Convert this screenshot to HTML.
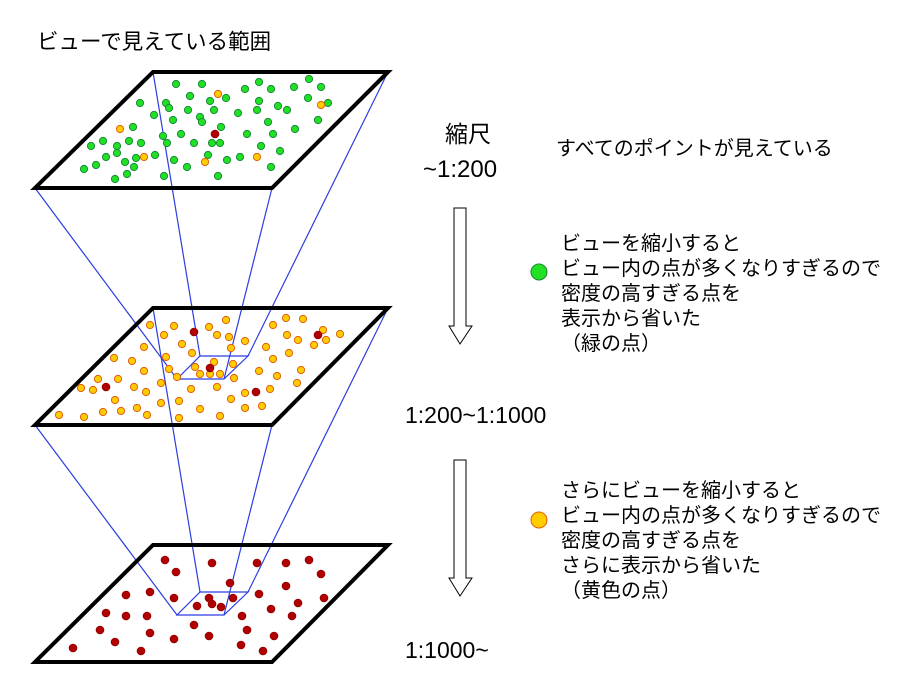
<!DOCTYPE html>
<html><head><meta charset="utf-8"><style>
html,body{margin:0;padding:0;background:#fff;}
svg{display:block;}
text{font-family:"Liberation Sans","Noto Sans CJK JP",sans-serif;fill:#000;}
</style></head><body>
<svg id="s" width="909" height="696" viewBox="0 0 909 696" xmlns="http://www.w3.org/2000/svg">
<rect width="909" height="696" fill="#fff"/>
<text x="37" y="49" font-size="21.5">ビューで見えている範囲</text>
<g stroke="#2b3de0" stroke-width="1.2" fill="none">
<line x1="153" y1="72" x2="200" y2="356"/>
<line x1="388" y1="72" x2="248" y2="356"/>
<line x1="35" y1="188" x2="177" y2="379"/>
<line x1="272" y1="188" x2="224" y2="379"/>
<polygon points="200,356 248,356 224,379 177,379"/>
<line x1="153" y1="308" x2="200" y2="592"/>
<line x1="388" y1="308" x2="248" y2="592"/>
<line x1="35" y1="425" x2="177" y2="615"/>
<line x1="272" y1="425" x2="224" y2="615"/>
<polygon points="200,592 248,592 224,615 177,615"/>
</g>
<g fill="none" stroke="#000" stroke-width="4" stroke-linejoin="miter">
<polygon points="153,72 388,72 272,188 35,188"/>
<polygon points="153,308 388,308 272,425 35,425"/>
<polygon points="153,545 388,545 272,662 35,662"/>
</g>
<g id="dots"></g>
<text x="445" y="142" font-size="23">縮尺</text>
<text x="423" y="177" font-size="24">~1:200</text>
<text x="405" y="423" font-size="23">1:200~1:1000</text>
<text x="405" y="658" font-size="23">1:1000~</text>
<text x="556" y="155" font-size="20">すべてのポイントが見えている</text>
<g fill="#fff" stroke="#000" stroke-width="1">
<polygon points="454,208 466,208 466,326 472,326 460,344 449,326 454,326"/>
<polygon points="454,460 466,460 466,578 472,578 460,596 449,578 454,578"/>
</g>
<circle cx="539" cy="272" r="8" fill="#22e022" stroke="#1a8a30" stroke-width="1"/>
<circle cx="539" cy="520" r="8" fill="#ffcc00" stroke="#e06000" stroke-width="1"/>
<g font-size="20">
<text x="561" y="250">ビューを縮小すると</text>
<text x="561" y="275">ビュー内の点が多くなりすぎるので</text>
<text x="561" y="300">密度の高すぎる点を</text>
<text x="561" y="325">表示から省いた</text>
<text x="561" y="350">（緑の点）</text>
<text x="561" y="497">さらにビューを縮小すると</text>
<text x="561" y="522">ビュー内の点が多くなりすぎるので</text>
<text x="561" y="547">密度の高すぎる点を</text>
<text x="561" y="572">さらに表示から省いた</text>
<text x="561" y="597">（黄色の点）</text>
</g>
</svg>
<script>
var G=[[176,84],[202,84],[259,82],[245,89],[271,89],[294,87],[309,79],[321,87],[190,96],[226,98],[210,101],[259,101],[308,98],[328,103],[140,103],[166,103],[169,108],[188,110],[214,110],[238,113],[257,110],[278,106],[287,110],[154,115],[200,117],[202,122],[173,120],[268,122],[318,120],[133,127],[221,127],[295,129],[181,134],[247,134],[273,134],[163,136],[103,141],[129,141],[141,143],[91,146],[117,146],[167,143],[194,143],[212,143],[220,143],[261,146],[280,151],[117,153],[106,157],[136,158],[155,155],[208,155],[174,160],[227,160],[240,157],[125,162],[96,165],[134,167],[187,167],[271,167],[84,169],[127,174],[115,179],[164,176],[218,176]];
var O=[[218,94],[321,105],[120,129],[144,157],[205,162],[257,157],[150,325],[174,326],[209,327],[226,320],[273,325],[286,318],[303,319],[323,330],[340,334],[164,335],[217,335],[229,337],[245,341],[287,335],[298,340],[326,340],[314,345],[182,344],[231,348],[266,347],[144,347],[192,353],[289,353],[114,358],[132,361],[166,357],[273,359],[214,362],[233,364],[195,367],[169,369],[144,371],[259,371],[301,370],[200,374],[210,374],[220,374],[177,377],[234,378],[277,376],[98,379],[118,379],[161,383],[297,383],[81,388],[93,390],[134,387],[146,392],[191,389],[217,387],[245,393],[270,389],[115,400],[231,399],[179,401],[161,403],[59,415],[84,417],[103,412],[121,411],[137,408],[147,415],[200,409],[220,416],[245,408],[262,406],[179,418]];
var R=[[215,134],[194,332],[318,335],[210,368],[106,387],[256,392],[165,560],[212,563],[257,563],[286,563],[309,560],[176,572],[321,574],[230,583],[286,586],[126,595],[150,592],[174,598],[209,598],[212,604],[233,598],[259,594],[324,598],[197,606],[221,607],[298,603],[106,613],[126,616],[147,616],[242,616],[271,609],[292,616],[194,625],[100,630],[150,633],[247,630],[209,636],[174,639],[274,636],[115,642],[73,648],[141,651],[241,645],[263,651]];
var h='';
G.forEach(function(p){h+='<circle cx="'+p[0]+'" cy="'+p[1]+'" r="3.6" fill="#22e022" stroke="#1a8a40" stroke-width="1"/>';});
O.forEach(function(p){h+='<circle cx="'+p[0]+'" cy="'+p[1]+'" r="3.6" fill="#ffcc00" stroke="#e06010" stroke-width="1"/>';});
R.forEach(function(p){h+='<circle cx="'+p[0]+'" cy="'+p[1]+'" r="3.9" fill="#b00000" stroke="#900000" stroke-width="0.8"/>';});
document.getElementById('dots').innerHTML=h;
</script>
</body></html>
